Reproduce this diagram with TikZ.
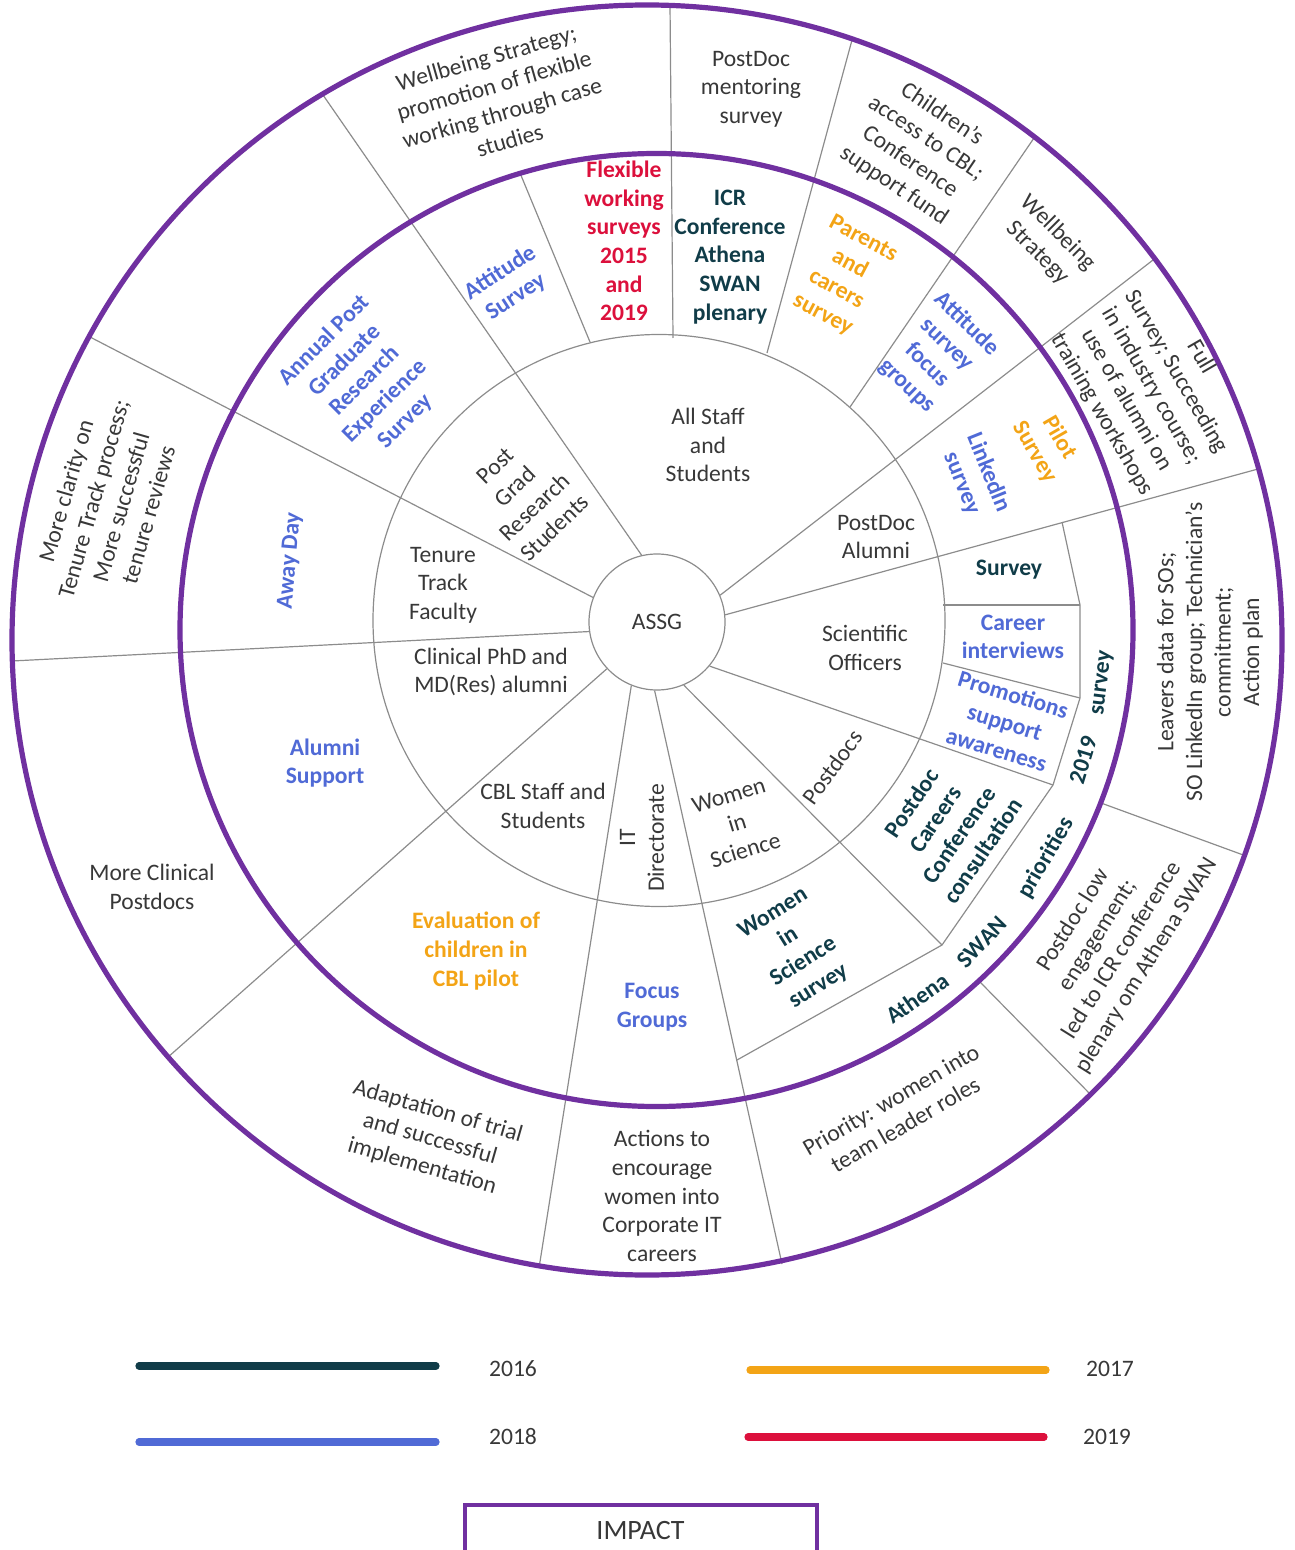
\documentclass[tikz,border=0pt]{standalone}
\usepackage{fontspec}
\setmainfont{Carlito}
\definecolor{impurple}{RGB}{112,48,160}
\definecolor{y2016}{RGB}{16,60,72}
\definecolor{y2017}{RGB}{243,164,22}
\definecolor{y2018}{RGB}{80,106,214}
\definecolor{y2019}{RGB}{220,16,60}
\tikzset{
  spoke/.style={draw=black!45,line width=0.6pt},
  ring/.style={draw=impurple,line width=2.6pt},
  grp/.style={align=center,text=black!78,font=\fontsize{11.8}{14.3}\selectfont},
  act/.style={align=center,font=\bfseries\fontsize{11.8}{14.3}\selectfont},
  keyline/.style={line width=3.6pt,line cap=round},
}
\begin{document}
\begin{tikzpicture}[x=0.5pt,y=-0.5pt]
	\useasboundingbox (0,0) rectangle (1294,1550);
	\clip (0,0) rectangle (1294,1550);
	\node[circle,draw=black!45,line width=0.6pt,minimum size=68pt,inner sep=0pt,grp] (assg) at (657,622) {ASSG};
	\draw[spoke] (assg.103) -- (323,95);
	\draw[spoke] (assg.159) -- (90,337);
	\draw[spoke] (assg.188) -- (12,661);
	\draw[spoke] (assg.223) -- (167,1058);
	\draw[spoke] (assg.248) -- (539,1268);
	\draw[spoke] (assg.268) -- (782,1264);
	\draw[spoke] (assg.293) -- (942,945);
	\draw[spoke] (980,982) -- (1092,1096);
	\draw[spoke] (assg.320) -- (1053,785);
	\draw[spoke] (1101,803) -- (1246,856);
	\draw[spoke] (assg.6) -- (1258,469);
	\draw[spoke] (assg.23) -- (1153,260);
	\draw[spoke] (590,342) -- (520,173);
	\draw[spoke] (673,338) -- (670,5);
	\draw[spoke] (767,353) -- (852,40);
	\draw[spoke] (850,407) -- (1034,138);
	\draw[spoke] (1062,522) -- (1080,605) -- (1080,698) -- (1053,785) -- (942,945) -- (737,1060);
	\draw[spoke] (943,605) -- (1080,605);
	\draw[spoke] (943,663) -- (1080,698);
	\draw[spoke] (659,620.5) circle (286);
	\draw[ring] (647,640) circle (635);
	\draw[ring] (656.5,630) circle (476.5);
	% groups
	\node[grp] (allstaff) at (708,445) {All Staff\\and\\Students};
	\node[grp] (pdalumni) at (876,537) {PostDoc\\Alumni};
	\node[grp] (sciofficers) at (865,648) {Scientific\\Officers};
	\node[grp,rotate=54] (postdocs) at (832,767) {Postdocs};
	\node[grp,rotate=17] (wis) at (737,823) {Women\\in\\Science};
	\node[grp,rotate=90] (itdir) at (642,838) {IT\\Directorate};
	\node[grp] (cbl) at (543,806) {CBL Staff and\\Students};
	\node[grp] (clinical) at (491,672) {Clinical PhD and\\MD(Res) alumni};
	\node[grp] (tenure) at (443,585) {Tenure\\Track\\Faculty};
	\node[grp,rotate=44] (pgr) at (525,497) {Post\\Grad\\Research\\Students};
	% actions
	\node[act,text=y2018,rotate=45] (apgres) at (365,381) {Annual Post\\Graduate\\Research\\Experience\\Survey};
	\node[act,text=y2018,rotate=33] (attitude) at (508,285) {Attitude\\Survey};
	\node[act,text=y2019] (flexible) at (624,241) {Flexible\\working\\surveys\\2015\\and\\2019};
	\node[act,text=y2016] (icrconf) at (730,257) {ICR\\Conference\\Athena\\SWAN\\plenary};
	\node[act,text=y2017,rotate=-28] (parents) at (843,277) {Parents\\and\\carers\\survey};
	\node[act,text=y2018,rotate=-44] (attfocus) at (937,355) {Attitude\\survey\\focus\\groups};
	\node[act,text=y2017,rotate=-60] (pilot) at (1047,445) {Pilot\\Survey};
	\node[act,text=y2018,rotate=-68] (linkedin) at (975,478) {LinkedIn\\survey};
	\node[act,text=y2016] (sosurvey) at (1009,570) {Survey};
	\node[act,text=y2018] (career) at (1013,637) {Career\\interviews};
	\node[act,text=y2018,rotate=-17] (promotions) at (1005,722) {Promotions\\support\\awareness};
	\node[act,text=y2016,rotate=56] (pdcareers) at (947,827) {Postdoc\\Careers\\Conference\\consultation};
	\node[act,text=y2016,rotate=35] (bandathena) at (917,998) {Athena};
	\node[act,text=y2016,rotate=46] (bandswan) at (982,942) {SWAN};
	\node[act,text=y2016,rotate=60] (bandprio) at (1046,858) {priorities};
	\node[act,text=y2016,rotate=73] (band2019) at (1083,760) {2019};
	\node[act,text=y2016,rotate=83] (bandsurvey) at (1103,683) {survey};
	\node[act,text=y2016,rotate=32] (wissurvey) at (796,950) {Women\\in\\Science\\survey};
	\node[act,text=y2018] (focus) at (652,1007) {Focus\\Groups};
	\node[act,text=y2017] (evaluation) at (476,951) {Evaluation of\\children in\\CBL pilot};
	\node[act,text=y2018] (alumnisup) at (325,763) {Alumni\\Support};
	\node[act,text=y2018,rotate=85] (awayday) at (290,561) {Away Day};
	% impact
	\node[grp,rotate=16] (wellflex) at (498,99) {Wellbeing Strategy;\\promotion of flexible\\working through case\\studies};
	\node[grp] (mentoring) at (751,89) {PostDoc\\mentoring\\survey};
	\node[grp,rotate=-34] (children) at (918,150) {Children’s\\access to CBL;\\Conference\\support fund};
	\node[grp,rotate=-45] (wellbeing) at (1048,243) {Wellbeing\\Strategy};
	\node[grp,rotate=-60] (fullsurvey) at (1151,386) {Full\\Survey; Succeeding\\in industry course;\\use of alumni on\\training workshops};
	\node[grp,rotate=90] (leavers) at (1210,652) {Leavers data for SOs;\\SO LinkedIn group; Technician’s\\commitment;\\Action plan};
	\node[grp,rotate=58] (lowengage) at (1110,943) {Postdoc low\\engagement;\\led to ICR conference\\plenary om Athena SWAN};
	\node[grp,rotate=30] (priority) at (898,1112) {Priority: women into\\team leader roles};
	\node[grp] (itcareers) at (662,1196) {Actions to\\encourage\\women into\\Corporate IT\\careers};
	\node[grp,rotate=-16] (adaptation) at (430,1139) {Adaptation of trial\\and successful\\implementation};
	\node[grp] (moreclin) at (152,887) {More Clinical\\Postdocs};
	\node[grp,rotate=74] (clarity) at (107,503) {More clarity on\\Tenure Track process;\\More successful\\tenure reviews};
	% key
	\draw[keyline,y2016] (139,1366) -- (436,1366);
	\node[grp] (k2016) at (513,1369) {2016};
	\draw[keyline,y2017] (750,1370) -- (1046,1370);
	\node[grp] (k2017) at (1110,1369) {2017};
	\draw[keyline,y2018] (139,1442) -- (436,1442);
	\node[grp] (k2018) at (513,1437) {2018};
	\draw[keyline,y2019] (748,1437) -- (1044,1437);
	\node[grp] (k2019) at (1107,1437) {2019};
	\node[draw=impurple,line width=2pt,minimum width=176pt,minimum height=25pt,anchor=north,grp,font=\fontsize{14}{16}\selectfont] (impact) at (640.5,1503) {IMPACT};
\end{tikzpicture}
\end{document}
